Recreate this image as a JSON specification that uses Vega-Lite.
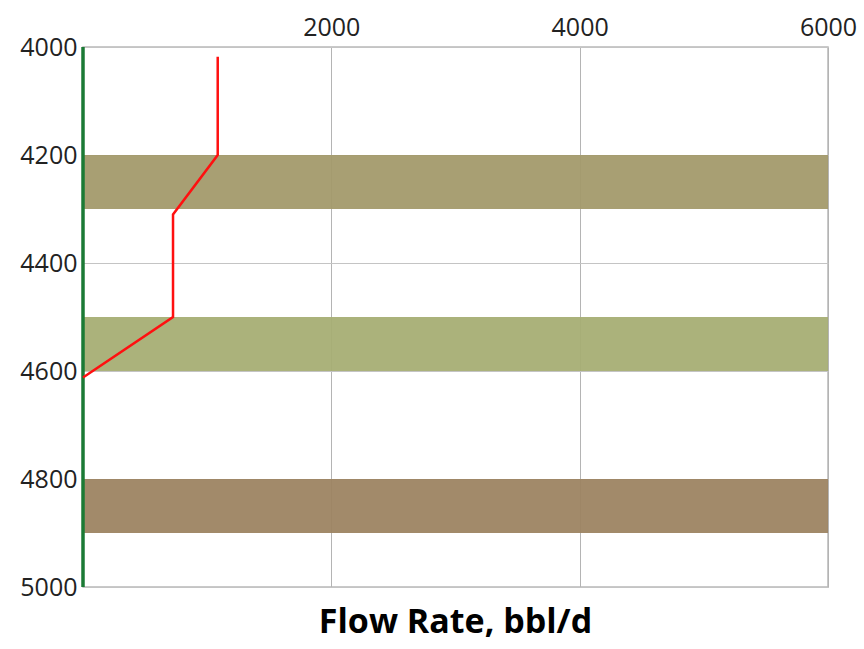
{
  "$schema": "https://vega.github.io/schema/vega-lite/v6.json",
  "width": 745,
  "height": 540,
  "autosize": "none",
  "padding": {"left": 83, "top": 47, "right": 36, "bottom": 62},
  "background": "#ffffff",
  "config": {
    "view": {"stroke": "#b8b8b8", "strokeWidth": 1.5},
    "font": "Open Sans"
  },
  "title": {
    "text": "Flow Rate, bbl/d",
    "orient": "bottom",
    "anchor": "middle",
    "fontSize": 34,
    "fontWeight": "bold",
    "font": "Open Sans",
    "color": "#000000",
    "offset": 6
  },
  "datasets": {
    "zones": [
      {"top": 4200, "bottom": 4300, "x0": 0, "x1": 6000, "zone": "A"},
      {"top": 4500, "bottom": 4600, "x0": 0, "x1": 6000, "zone": "B"},
      {"top": 4800, "bottom": 4900, "x0": 0, "x1": 6000, "zone": "C"}
    ],
    "flow": [
      {"depth": 4018, "rate": 1085},
      {"depth": 4200, "rate": 1085},
      {"depth": 4310, "rate": 725},
      {"depth": 4500, "rate": 725},
      {"depth": 4612, "rate": 0}
    ],
    "wall": [
      {"depth": 4000, "rate": 0},
      {"depth": 5000, "rate": 0}
    ]
  },
  "layer": [
    {
      "data": {"name": "zones"},
      "mark": {"type": "rect", "opacity": 0.95},
      "encoding": {
        "x": {
          "field": "x0", "type": "quantitative",
          "scale": {"domain": [0, 6000], "nice": false},
          "axis": {
            "orient": "top", "values": [0, 2000, 4000, 6000], "title": null,
            "labelExpr": "datum.value == 0 ? '' : datum.label",
            "labelFontSize": 25, "labelColor": "#222222", "labelFont": "Open Sans",
            "ticks": false, "domain": false, "labelPadding": 7,
            "grid": true, "gridColor": "#b4b4b4", "gridWidth": 1, "format": "d",
            "labelFlush": false
          }
        },
        "x2": {"field": "x1"},
        "y": {
          "field": "top", "type": "quantitative",
          "scale": {"domain": [4000, 5000], "reverse": true, "nice": false},
          "axis": {
            "values": [4000, 4200, 4400, 4600, 4800, 5000], "title": null,
            "labelFontSize": 25, "labelColor": "#222222", "labelFont": "Open Sans",
            "ticks": false, "domain": false, "labelPadding": 6,
            "grid": true, "gridColor": "#c4c4c4", "gridWidth": 1, "format": "d",
            "labelFlush": false
          }
        },
        "y2": {"field": "bottom"},
        "color": {
          "field": "zone", "type": "nominal",
          "scale": {"domain": ["A", "B", "C"], "range": ["#a39a6c", "#a6ae74", "#9d8462"]},
          "legend": null
        }
      }
    },
    {
      "data": {"name": "wall"},
      "mark": {"type": "line", "color": "#1b7a35", "strokeWidth": 3.5},
      "encoding": {
        "x": {"field": "rate", "type": "quantitative"},
        "y": {"field": "depth", "type": "quantitative"}
      }
    },
    {
      "data": {"name": "flow"},
      "mark": {"type": "line", "color": "#ff1010", "strokeWidth": 2.5},
      "encoding": {
        "x": {"field": "rate", "type": "quantitative"},
        "y": {"field": "depth", "type": "quantitative"},
        "order": {"field": "depth", "type": "quantitative"}
      }
    }
  ]
}
